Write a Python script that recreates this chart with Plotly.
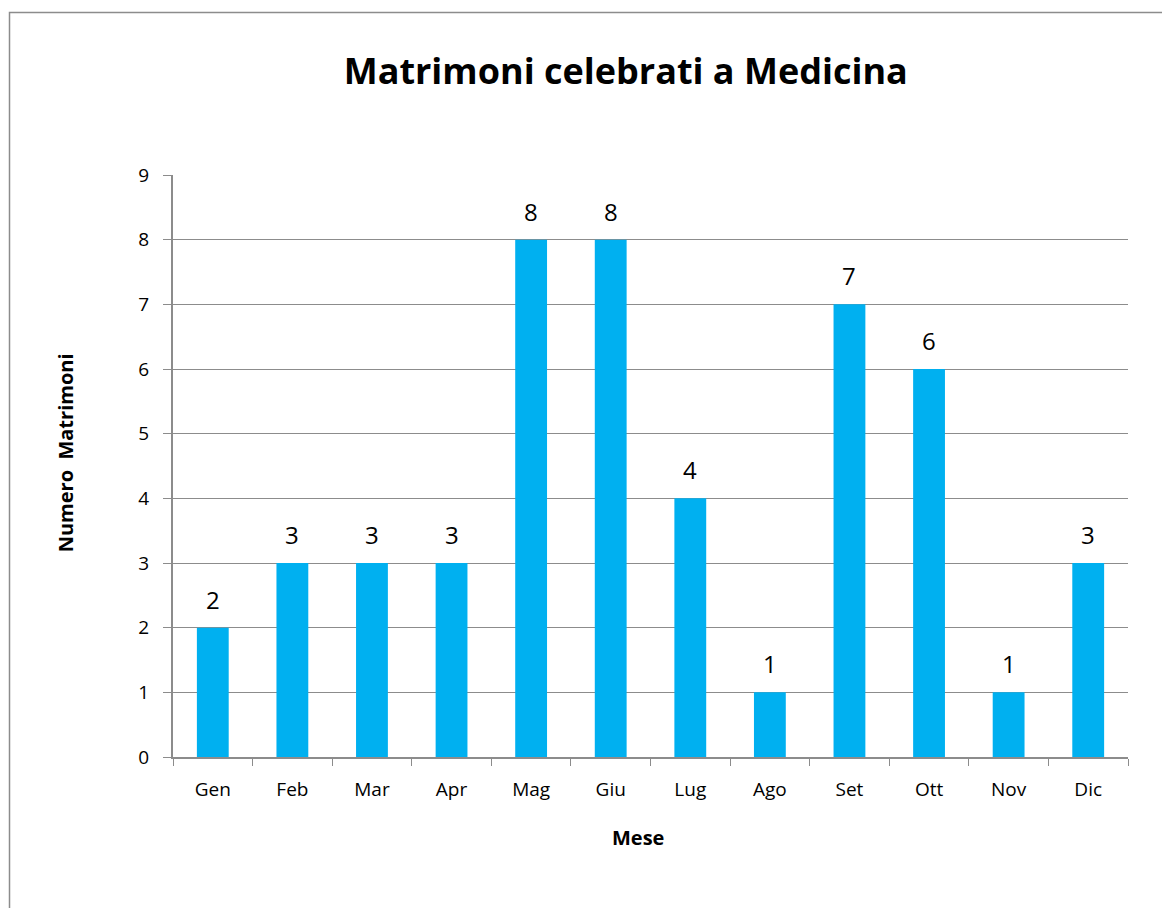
import plotly.graph_objects as go

# Dati
mesi = ['Gen', 'Feb', 'Mar', 'Apr', 'Mag', 'Giu', 'Lug', 'Ago', 'Set', 'Ott', 'Nov', 'Dic']
matrimoni = [2, 3, 3, 3, 8, 8, 4, 1, 7, 6, 1, 3]
y_ticks = [0, 1, 2, 3, 4, 5, 6, 7, 8, 9]

font_family = "Open Sans, sans-serif"
grid_col = '#8c8c8c'

fig = go.Figure()
fig.add_trace(go.Bar(x=mesi, y=matrimoni, width=0.4,
                     marker=dict(color='#00B0F0', line=dict(width=0)),
                     showlegend=False))

# etichette sopra le barre
for m, v in zip(mesi, matrimoni):
    fig.add_annotation(x=m, y=v, text=str(v), showarrow=False, yanchor='bottom', yshift=10,
                       font=dict(size=24, color='#000000', family=font_family))

fig.update_xaxes(type='category', tickson='boundaries', ticks='outside', ticklen=7,
                 tickcolor=grid_col, showline=True, linecolor=grid_col, linewidth=2,
                 showgrid=False, ticklabelstandoff=14,
                 tickfont=dict(size=19, color='#000000', family=font_family))
fig.update_yaxes(range=[0, 9], tickvals=y_ticks, ticks='outside', ticklen=8, tickcolor=grid_col,
                 showline=True, linecolor=grid_col, linewidth=2, showgrid=True, gridcolor=grid_col,
                 gridwidth=1, zeroline=False, ticklabelstandoff=10,
                 tickfont=dict(size=19, color='#000000', family=font_family))

# titoli degli assi (posizionati come nell'originale, non centrati sull'area)
fig.add_annotation(xref='paper', yref='paper', x=0.487, y=-0.139, text='<b>Mese</b>',
                   showarrow=False, xanchor='center', yanchor='middle',
                   font=dict(size=20, color='#000000', family=font_family))
fig.add_annotation(xref='paper', yref='paper', x=-0.113, y=0.522, text='<b>Numero  Matrimoni</b>',
                   showarrow=False, textangle=-90, xanchor='center', yanchor='middle',
                   font=dict(size=20, color='#000000', family=font_family))

# cornice del grafico
fig.add_shape(type='rect', xref='paper', yref='paper', x0=-0.1712, x1=1.2, y0=-0.5, y1=1.2792,
              line=dict(color='#8c8c8c', width=1.5), fillcolor='rgba(0,0,0,0)', layer='below')

fig.update_layout(width=1170, height=908, paper_bgcolor='white', plot_bgcolor='white',
                  margin=dict(l=165, r=50, t=167, b=159),
                  title=dict(text='<b>Matrimoni celebrati a Medicina</b>', x=0.528, xanchor='center',
                             y=0.930, yanchor='middle',
                             font=dict(size=36, color='#000000', family=font_family)))

fig.write_html("out.html")
